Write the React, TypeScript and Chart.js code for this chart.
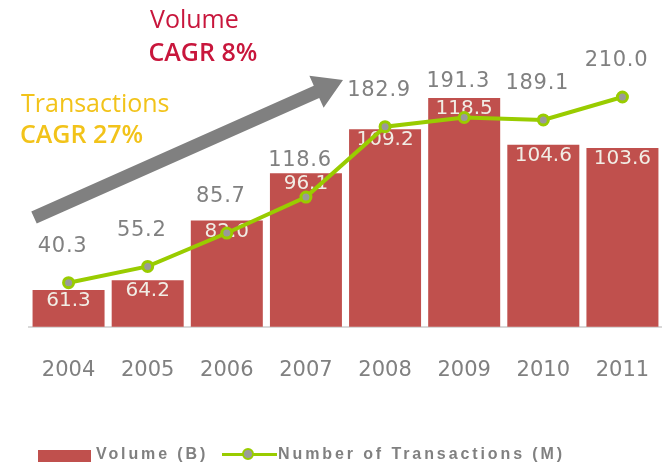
import React, { useEffect, useRef } from 'react';
import { Chart, registerables } from 'chart.js';

Chart.register(...registerables);

const years = ['2004', '2005', '2006', '2007', '2008', '2009', '2010', '2011'];
const volumeB = [61.3, 64.2, 82.0, 96.1, 109.2, 118.5, 104.6, 103.6];
const transactionsM = [40.3, 55.2, 85.7, 118.6, 182.9, 191.3, 189.1, 210.0];

const RED = '#C0504D';
const GREEN = '#99CC00';
const GRAY = '#808080';

const labelPlugin = {
  id: 'valueLabels',
  afterDatasetDraw(chart: any, args: any) {
    if (args.index !== 0) return;
    const ctx = chart.ctx;
    const meta = chart.getDatasetMeta(0);
    ctx.save();
    ctx.font = '20px "DejaVu Sans"';
    ctx.fillStyle = '#F1EDE5';
    ctx.textAlign = 'center';
    ctx.textBaseline = 'middle';
    meta.data.forEach((el: any, i: number) => {
      ctx.fillText(volumeB[i].toFixed(1), el.x, el.y + 11);
    });
    ctx.restore();
  },
  afterDatasetsDraw(chart: any) {
    const ctx = chart.ctx;
    const pts = chart.getDatasetMeta(1).data;
    ctx.save();
    ctx.font = '21px "DejaVu Sans"';
    (ctx as any).letterSpacing = '0.7px';
    ctx.fillStyle = GRAY;
    ctx.textAlign = 'center';
    ctx.textBaseline = 'middle';
    pts.forEach((pt: any, i: number) => {
      ctx.fillText(transactionsM[i].toFixed(1), pt.x - 6, pt.y - 36);
    });
    ctx.restore();
  },
  afterDraw(chart: any) {
    // decorative growth arrow
    const ctx = chart.ctx;
    const tipX = 343, tipY = 80, tailX = 34, tailY = 217.5;
    const L = Math.hypot(tipX - tailX, tipY - tailY);
    const ang = Math.atan2(tipY - tailY, tipX - tailX);
    ctx.save();
    ctx.translate(tipX, tipY);
    ctx.rotate(ang);
    ctx.fillStyle = GRAY;
    ctx.beginPath();
    ctx.moveTo(0, 0);
    ctx.lineTo(-29, -17.5);
    ctx.lineTo(-29, -6.7);
    ctx.lineTo(-L, -6.7);
    ctx.lineTo(-L, 6.7);
    ctx.lineTo(-29, 6.7);
    ctx.lineTo(-29, 17.5);
    ctx.closePath();
    ctx.fill();
    ctx.restore();
  },
};

function ChartCanvas() {
  const ref = useRef<HTMLCanvasElement | null>(null);
  useEffect(() => {
    if (!ref.current) return;
    const chart = new Chart(ref.current, {
      type: 'bar',
      data: {
        labels: years,
        datasets: [
          {
            type: 'bar',
            label: 'Volume (B)',
            data: volumeB,
            backgroundColor: RED,
            yAxisID: 'yVol',
            barPercentage: 0.91,
            categoryPercentage: 1,
            order: 2,
          } as any,
          {
            type: 'line',
            label: 'Number of Transactions (M)',
            data: transactionsM,
            borderColor: GREEN,
            borderWidth: 4,
            pointRadius: 5,
            pointBackgroundColor: '#9A9A9A',
            pointBorderColor: GREEN,
            pointBorderWidth: 3,
            tension: 0,
            yAxisID: 'yTx',
            order: 1,
          } as any,
        ],
      },
      options: {
        responsive: false,
        animation: false,
        layout: { autoPadding: false, padding: { left: 29, right: 0, top: 27, bottom: 82 } },
        plugins: {
          legend: { display: false },
          tooltip: { enabled: false },
        },
        scales: {
          x: {
            grid: { display: false, drawTicks: true, tickLength: 31 },
            border: { display: true, color: '#D9D9D9', width: 2 },
            ticks: {
              color: GRAY,
              font: { family: '"DejaVu Sans"', size: 21 },
              padding: 0,
            },
          },
          yVol: {
            display: false,
            position: 'left',
            min: 50.3,
            max: 139.7,
          },
          yTx: {
            display: false,
            position: 'right',
            min: 0,
            max: 274,
          },
        },
      },
      plugins: [labelPlugin],
    });
    return () => chart.destroy();
  }, []);
  return <canvas ref={ref} width={662} height={465} style={{ position: 'absolute', left: 0, top: 0, width: 662, height: 465 }} />;
}

const annoBase: React.CSSProperties = {
  position: 'absolute',
  fontFamily: '"Open Sans"',
  fontSize: 25,
  lineHeight: '25px',
  whiteSpace: 'nowrap',
};

const legendText: React.CSSProperties = {
  position: 'absolute',
  fontFamily: '"Liberation Sans"',
  fontWeight: 'bold',
  fontSize: 16,
  lineHeight: '16px',
  letterSpacing: '2.9px',
  color: GRAY,
  whiteSpace: 'nowrap',
  top: 445.5,
};

export default function App() {
  return (
    <div style={{ position: 'fixed', left: 0, top: 0, width: 662, height: 465, background: '#fff', overflow: 'hidden' }}>
      <ChartCanvas />
      <div style={{ ...annoBase, left: 150, top: 5.8, color: '#C8163C' }}>Volume</div>
      <div style={{ ...annoBase, left: 148.5, top: 38.8, color: '#C8163C', fontWeight: 600 }}>CAGR 8%</div>
      <div style={{ ...annoBase, left: 21, top: 89.8, color: '#F2C31A' }}>Transactions</div>
      <div style={{ ...annoBase, left: 20, top: 120.8, color: '#F2C31A', fontWeight: 600 }}>CAGR 27%</div>

      <div style={{ position: 'absolute', left: 38, top: 450, width: 53, height: 12, background: RED }} />
      <div style={{ ...legendText, left: 96 }}>Volume (B)</div>
      <div style={{ position: 'absolute', left: 222, top: 452.5, width: 55, height: 3.5, background: GREEN }} />
      <div
        style={{
          position: 'absolute',
          left: 248 - 6.5,
          top: 454 - 6.5,
          width: 8,
          height: 8,
          borderRadius: '50%',
          background: '#9A9A9A',
          border: `2.5px solid ${GREEN}`,
        }}
      />
      <div style={{ ...legendText, left: 278 }}>Number of Transactions (M)</div>
    </div>
  );
}
